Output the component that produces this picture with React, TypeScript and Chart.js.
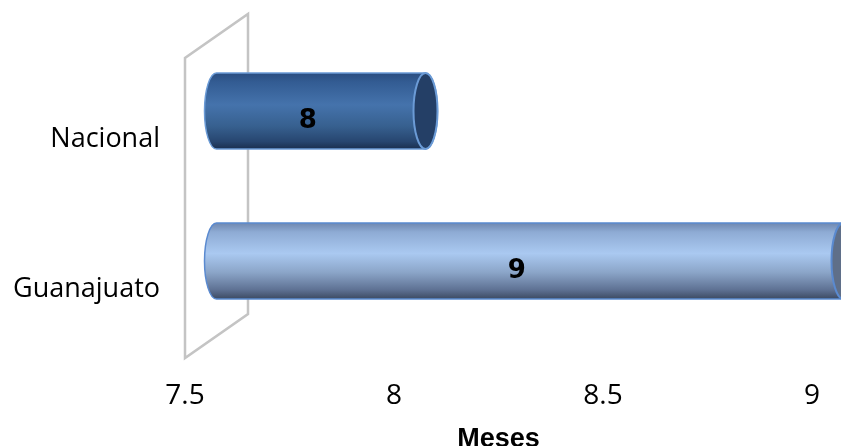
import React, { useEffect, useRef } from "react";
import { Chart, registerables } from "chart.js";

Chart.register(...registerables);

const categories = ["Nacional", "Guanajuato"];
const values = [8, 9];
const valueLabels = ["8", "9"];
const xTicks = [7.5, 8, 8.5, 9];
const xMin = 7.5;
const xMax = 9;
const xTitle = "Meses";

const DEPTH_X = 63;
const DEPTH_Y = -44;

const palettes = [
  {
    stops: [
      [0, "#2A4D80"],
      [0.12, "#335C93"],
      [0.42, "#4573AC"],
      [0.7, "#37608F"],
      [0.9, "#274670"],
      [1, "#1A2F4F"],
    ],
    cap: "#243F66",
    edge: "#6B9BD6",
  },
  {
    stops: [
      [0, "#6F88B0"],
      [0.12, "#8EABD4"],
      [0.4, "#AAC9F1"],
      [0.65, "#8BA5C8"],
      [0.88, "#5E7193"],
      [1, "#3C4A62"],
    ],
    cap: "#5F6F89",
    edge: "#5A8AD0",
  },
];

const wallPlugin = {
  id: "wall3d",
  beforeDatasetsDraw(chart: any) {
    const { ctx, chartArea } = chart;
    const { left, top, bottom } = chartArea;
    ctx.save();
    ctx.strokeStyle = "#C4C4C4";
    ctx.lineWidth = 2.5;
    ctx.lineJoin = "miter";
    ctx.beginPath();
    ctx.moveTo(left, top);
    ctx.lineTo(left, bottom);
    ctx.lineTo(left + DEPTH_X, bottom + DEPTH_Y);
    ctx.lineTo(left + DEPTH_X, top + DEPTH_Y);
    ctx.closePath();
    ctx.stroke();
    ctx.restore();
  },
};

const cylinderPlugin = {
  id: "cylinders",
  afterDatasetsDraw(chart: any) {
    const { ctx } = chart;
    const meta = chart.getDatasetMeta(0);
    const dx = DEPTH_X / 2;
    const dy = DEPTH_Y / 2;
    const base = chart.scales.x.getPixelForValue(xMin);
    meta.data.forEach((el: any, i: number) => {
      const { x, y, height } = el.getProps(["x", "y", "height"], true);
      const pal = palettes[i % palettes.length];
      const cx0 = base + dx;
      const cx1 = x + dx;
      const cy = y + dy;
      const ry = height / 2;
      const rx = 12;
      ctx.save();
      const grad = ctx.createLinearGradient(0, cy - ry, 0, cy + ry);
      pal.stops.forEach((s: any) => grad.addColorStop(s[0], s[1]));
      ctx.beginPath();
      ctx.moveTo(cx0, cy - ry);
      ctx.lineTo(cx1, cy - ry);
      ctx.ellipse(cx1, cy, rx, ry, 0, -Math.PI / 2, Math.PI / 2, false);
      ctx.lineTo(cx0, cy + ry);
      ctx.ellipse(cx0, cy, rx, ry, 0, Math.PI / 2, (3 * Math.PI) / 2, false);
      ctx.closePath();
      ctx.fillStyle = grad;
      ctx.fill();
      ctx.strokeStyle = pal.edge;
      ctx.lineWidth = 1.5;
      ctx.stroke();
      ctx.beginPath();
      ctx.ellipse(cx1, cy, rx, ry, 0, 0, Math.PI * 2);
      ctx.fillStyle = pal.cap;
      ctx.fill();
      ctx.lineWidth = 2;
      ctx.strokeStyle = pal.edge;
      ctx.stroke();

      ctx.font = 'bold 26px "DejaVu Sans"';
      ctx.fillStyle = "#000000";
      ctx.textAlign = "center";
      ctx.textBaseline = "middle";
      const lx = (base + x) / 2 + DEPTH_X * 0.29;
      const ly = y + DEPTH_Y * 0.26;
      ctx.fillText(valueLabels[i], lx, ly);
      ctx.restore();
    });
  },
};

export default function App() {
  const canvasRef = useRef<HTMLCanvasElement | null>(null);

  useEffect(() => {
    if (!canvasRef.current) return;
    const chart = new Chart(canvasRef.current, {
      type: "bar",
      data: {
        labels: categories,
        datasets: [
          {
            data: values,
            base: xMin,
            backgroundColor: "rgba(0,0,0,0)",
            borderWidth: 0,
            barPercentage: 1,
            categoryPercentage: 0.507,
          },
        ],
      },
      options: {
        indexAxis: "y",
        animation: false,
        responsive: true,
        maintainAspectRatio: false,
        layout: { padding: { top: 58, right: 27, bottom: 0, left: 0 } },
        plugins: {
          legend: { display: false },
          tooltip: { enabled: false },
        },
        scales: {
          x: {
            type: "linear",
            min: xMin,
            max: xMax,
            afterBuildTicks: (s: any) => {
              s.ticks = xTicks.map((v) => ({ value: v }));
            },
            afterFit: (s: any) => {
              s.height = 88;
            },
            grid: { display: false, drawTicks: false },
            border: { display: false },
            ticks: {
              color: "#000000",
              padding: 21,
              font: { family: '"Open Sans"', size: 28 },
              maxRotation: 0,
              callback: (v: any) => String(v),
            },
            title: {
              display: true,
              text: xTitle,
              color: "#000000",
              font: { family: '"Liberation Sans"', size: 27, weight: "bold", lineHeight: 1 },
              padding: { top: 0, bottom: -7 },
            },
          },
          y: {
            afterFit: (s: any) => {
              s.width = 185;
            },
            grid: { display: false, drawTicks: false },
            border: { display: false },
            ticks: {
              color: "#000000",
              padding: 25,
              labelOffset: 6,
              font: { family: '"Open Sans"', size: 27 },
            },
          },
        },
      },
      plugins: [wallPlugin, cylinderPlugin],
    } as any);
    return () => chart.destroy();
  }, []);

  return (
    <div style={{ position: "absolute", left: 0, top: 0, width: 841, height: 446 }}>
      <canvas ref={canvasRef} />
    </div>
  );
}
